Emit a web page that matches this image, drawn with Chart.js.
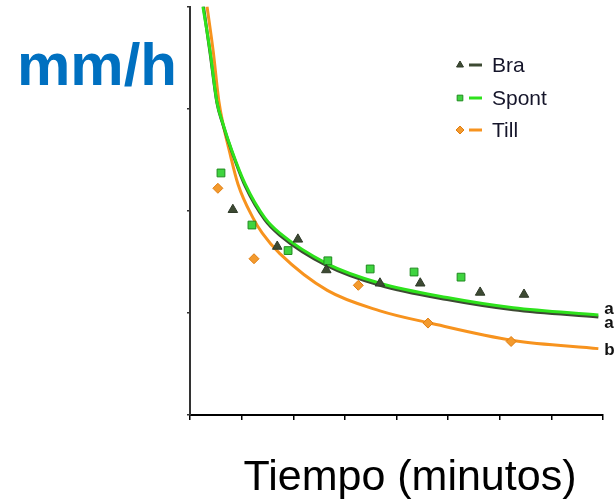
<!DOCTYPE html>
<html>
<head>
<meta charset="utf-8">
<script src="https://cdn.jsdelivr.net/npm/chart.js@4.4.0/dist/chart.umd.min.js"></script>
<style>
    html, body { margin: 0; padding: 0; background: #fff; }
    #wrap { width: 615px; height: 502px; }
</style>
</head>
<body>
<div id="wrap"><canvas id="chart" width="615" height="502"></canvas></div>
<script>
// Series names (legend order)
const seriesNames = ['Bra', 'Spont', 'Till'];
const fitLetters = ['a', 'a', 'b'];

// Measured points
const braX = [0.83, 1.69, 2.09, 2.64, 3.68, 4.46, 5.62, 6.47];
const braY = [2.01, 1.65, 1.72, 1.42, 1.29, 1.29, 1.20, 1.18];
const spontX = [0.60, 1.20, 1.90, 2.67, 3.49, 4.34, 5.25];
const spontY = [2.37, 1.86, 1.61, 1.51, 1.43, 1.40, 1.35];
const tillX = [0.54, 1.24, 3.26, 4.61, 6.22];
const tillY = [2.22, 1.53, 1.27, 0.90, 0.72];

// Fitted curves
const braCurveX = [0.26, 0.39, 0.52, 0.64, 0.81, 1.07, 1.45, 1.74, 2.66, 3.68, 4.98, 6.26, 7.91];
const braCurveY = [4.00, 3.54, 3.06, 2.84, 2.58, 2.24, 1.91, 1.76, 1.46, 1.27, 1.13, 1.03, 0.96];
const spontCurveX = [0.25, 0.39, 0.52, 0.64, 0.81, 1.07, 1.45, 1.74, 2.66, 3.68, 4.98, 6.26, 7.91];
const spontCurveY = [4.00, 3.56, 3.07, 2.85, 2.59, 2.26, 1.93, 1.78, 1.48, 1.29, 1.15, 1.05, 0.98];
const tillCurveX = [0.33, 0.45, 0.56, 0.64, 0.76, 0.93, 1.22, 1.40, 1.74, 2.66, 3.68, 4.65, 6.26, 7.91];
const tillCurveY = [4.00, 3.56, 3.07, 2.85, 2.59, 2.26, 1.93, 1.78, 1.58, 1.22, 1.02, 0.90, 0.73, 0.65];

// Axis ranges
const xMax = 8;
const yMax = 4;

const colors = ['#3d4a33', '#2ee21c', '#f7931e'];
const markerFill = ['#3d4a33', '#3fd43f', '#f39a2e'];
const markerEdge = ['#2f3a28', '#1f8a1f', '#e07d10'];
const markerStyle = ['triangle', 'rect', 'rectRot'];
const markerRadius = [5.5, 5.5, 5];

const toPoints = (xs, ys) => xs.map((x, i) => ({ x: x, y: ys[i] }));

const pointSets = [toPoints(braX, braY), toPoints(spontX, spontY), toPoints(tillX, tillY)];
const curveSets = [toPoints(braCurveX, braCurveY), toPoints(spontCurveX, spontCurveY), toPoints(tillCurveX, tillCurveY)];

const datasets = [];
seriesNames.forEach((name, i) => {
    datasets.push({
        label: name,
        data: pointSets[i],
        showLine: false,
        pointStyle: markerStyle[i],
        pointRadius: markerRadius[i],
        backgroundColor: markerFill[i],
        borderColor: markerEdge[i],
        borderWidth: 1,
        order: 0
    });
});
// curve draw order: Till bottom, Bra middle, Spont on top
const curveOrder = [2, 1, 3];
seriesNames.forEach((name, i) => {
    datasets.push({
        label: name + ' fit',
        data: curveSets[i],
        showLine: true,
        pointRadius: 0,
        borderColor: colors[i],
        borderWidth: 3,
        cubicInterpolationMode: 'monotone',
        fill: false,
        order: curveOrder[i]
    });
});

// Extra text: legend, fit letters, axis titles
const decorations = {
    id: 'decorations',
    afterDraw(chart) {
        const ctx = chart.ctx;
        const xs = chart.scales.x;
        const ys = chart.scales.y;
        ctx.save();

        // legend
        const rowY = [65, 98, 130];
        seriesNames.forEach((name, i) => {
            ctx.fillStyle = markerFill[i];
            ctx.strokeStyle = markerEdge[i];
            ctx.lineWidth = 1;
            Chart.helpers.drawPoint(ctx, { pointStyle: markerStyle[i], radius: 4, borderWidth: 1 }, 460, rowY[i]);
            ctx.strokeStyle = colors[i];
            ctx.lineWidth = 3;
            ctx.beginPath();
            ctx.moveTo(469, rowY[i]);
            ctx.lineTo(482, rowY[i]);
            ctx.stroke();
            ctx.fillStyle = '#15152a';
            ctx.font = '21px "Liberation Sans", Arial, sans-serif';
            ctx.textBaseline = 'middle';
            ctx.textAlign = 'left';
            ctx.fillText(name, 492, rowY[i] + 1);
        });

        // fit letters at curve ends
        const offsets = [6, -6, 2];
        const ends = curveSets.map(c => c[c.length - 1]);
        ctx.fillStyle = '#111';
        ctx.font = 'bold 17px "Liberation Sans", Arial, sans-serif';
        ctx.textBaseline = 'middle';
        ends.forEach((p, i) => {
            ctx.fillText(fitLetters[i], xs.getPixelForValue(p.x) + 6, ys.getPixelForValue(p.y) + offsets[i]);
        });

        // y unit
        ctx.fillStyle = '#0070c0';
        ctx.font = 'bold 60px "Liberation Sans", Arial, sans-serif';
        ctx.textBaseline = 'alphabetic';
        ctx.textAlign = 'left';
        ctx.fillText('mm/h', 17, 85);

        // x title
        ctx.fillStyle = '#000';
        ctx.font = '43px "Liberation Sans", Arial, sans-serif';
        ctx.textAlign = 'center';
        ctx.fillText('Tiempo (minutos)', 410, 490);
        ctx.restore();
    }
};

new Chart(document.getElementById('chart'), {
    type: 'scatter',
    data: { datasets: datasets },
    options: {
        responsive: false,
        animation: false,
        layout: { padding: { left: 187, right: 12, top: 5, bottom: 82 } },
        plugins: { legend: { display: false }, tooltip: { enabled: false } },
        scales: {
            x: {
                type: 'linear',
                min: 0,
                max: xMax,
                ticks: { stepSize: 1, display: false },
                grid: { drawOnChartArea: false, drawTicks: true, tickLength: 5, color: '#000', lineWidth: 1.5 },
                border: { color: '#000', width: 2 },
                afterFit: (s) => { s.height = 5; }
            },
            y: {
                min: 0,
                max: yMax,
                ticks: { stepSize: 1, display: false },
                grid: { drawOnChartArea: false, drawTicks: true, tickLength: 3, color: '#333', lineWidth: 1.5 },
                border: { color: '#333', width: 2 },
                afterFit: (s) => { s.width = 3; }
            }
        }
    },
    plugins: [decorations]
});
</script>
</body>
</html>
